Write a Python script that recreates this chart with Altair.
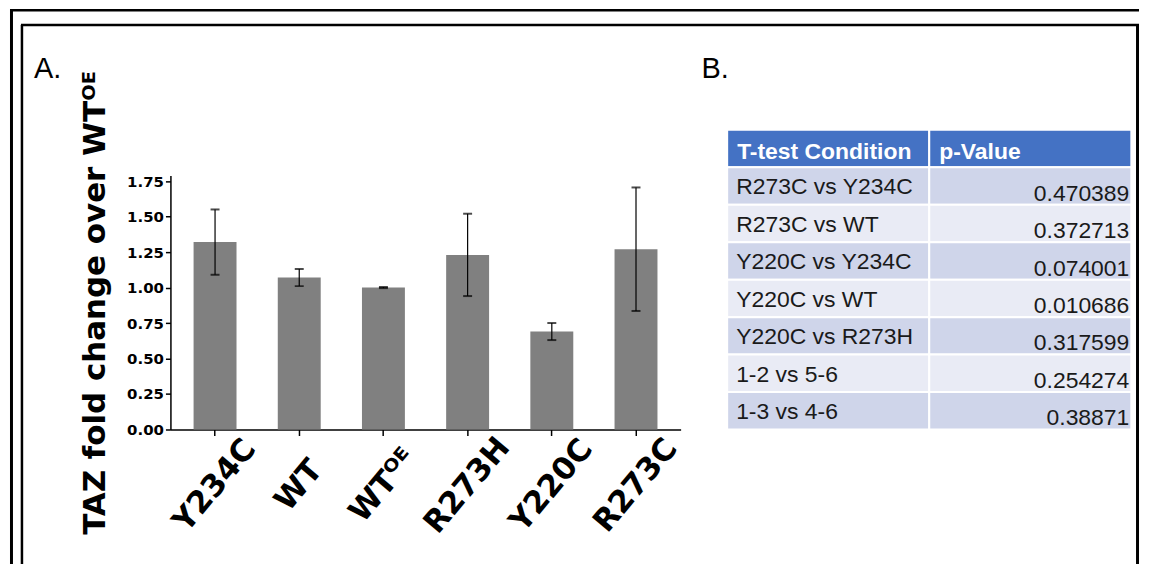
import altair as alt
import pandas as pd

# ---------------- data ----------------
categories = ["Y234C", "WT", "WTᴼᴱ", "R273H", "Y220C", "R273C"]
means = [1.32, 1.07, 1.00, 1.23, 0.69, 1.27]
errors = [0.23, 0.06, 0.004, 0.29, 0.06, 0.435]
y_ticks = [0.0, 0.25, 0.5, 0.75, 1.0, 1.25, 1.5, 1.75]

header = ["T-test Condition", "p-Value"]
conditions = ["R273C vs Y234C", "R273C vs WT", "Y220C vs Y234C", "Y220C vs WT",
              "Y220C vs R273H", "1-2 vs 5-6", "1-3 vs 4-6"]
p_values = [0.470389, 0.372713, 0.074001, 0.010686, 0.317599, 0.254274, 0.38871]

y_title = "TAZ fold change over WTᴼᴱ"

# ---------------- tables ----------------
bars = pd.DataFrame({
    "cat": categories,
    "mean": means,
    "lo": [m - e for m, e in zip(means, errors)],
    "hi": [m + e for m, e in zip(means, errors)],
})

row_keys = ["head"] + [f"r{i}" for i in range(len(conditions))]
cells = []
for i, key in enumerate(row_keys):
    kind = "header" if i == 0 else ("dark" if i % 2 == 1 else "light")
    for col in header:
        cells.append({"row": key, "col": col, "kind": kind})
cells = pd.DataFrame(cells)
head_txt = pd.DataFrame({"row": ["head", "head"], "col": header, "label": header})
body = pd.DataFrame({
    "row": row_keys[1:],
    "cond": conditions,
    "pval": [str(v) for v in p_values],
    "c1": header[0],
    "c2": header[1],
})

# ---------------- panel A: bar chart ----------------
FONT = "DejaVu Sans"
xaxis = alt.Axis(title=None, labelAngle=310, labelAlign="center", labelBaseline="middle",
                 labelPadding=50, labelFont=FONT, labelFontSize=31, labelFontWeight="bold",
                 labelColor="black", labelOverlap=False, labelLimit=400,
                 tickSize=6, tickColor="black", tickWidth=1.5,
                 domainColor="black", domainWidth=1.5)
xenc = alt.X("cat:N", sort=categories,
             scale=alt.Scale(domain=categories, paddingInner=0.49, paddingOuter=0.275),
             axis=xaxis)
yscale = alt.Scale(domain=[0, 1.79], nice=False, zero=True)
yaxis = alt.Axis(values=y_ticks, format=".2f", grid=False, title=y_title,
                 labelFont=FONT, labelFontSize=15, labelFontWeight="bold", labelColor="black",
                 labelOverlap=False, labelPadding=2, tickSize=5, tickColor="black", tickWidth=1.5,
                 domainColor="black", domainWidth=1.5,
                 titleFont=FONT, titleFontSize=31, titleFontWeight="bold", titleColor="black",
                 titlePadding=15)

def yq(field):
    return alt.Y(f"{field}:Q", scale=yscale, axis=yaxis, title=y_title)

base = alt.Chart(bars)
bar_layer = alt.layer(
    base.mark_bar(color="#808080").encode(x=xenc, y=yq("mean")),
    base.mark_rule(color="black", strokeWidth=1.2).encode(x=xenc, y=yq("lo"), y2="hi:Q"),
    base.mark_tick(color="black", thickness=2, size=9).encode(x=xenc, y=yq("lo")),
    base.mark_tick(color="black", thickness=2, size=9).encode(x=xenc, y=yq("hi")),
)

# ---------------- panel B: table ----------------
tx_scale = alt.Scale(domain=header, range=[558.7, 964.3], paddingInner=0, paddingOuter=0)
ty_scale = alt.Scale(domain=row_keys, range=[-45.7, 255], paddingInner=0, paddingOuter=0)
TFONT = "Liberation Sans"

cell_rects = alt.Chart(cells).mark_rect(stroke="white", strokeWidth=2).encode(
    x=alt.X("col:N", scale=tx_scale, axis=None),
    y=alt.Y("row:N", scale=ty_scale, axis=None),
    color=alt.Color("kind:N", scale=alt.Scale(domain=["header", "dark", "light"],
                                              range=["#4472C4", "#CFD5EA", "#E9EBF5"]), legend=None),
)
head_left = alt.Chart(head_txt).mark_text(align="left", baseline="alphabetic", dx=10, font=TFONT,
                                          fontSize=23, fontWeight="bold", color="white").encode(
    x=alt.X("col:N", scale=tx_scale, axis=None, bandPosition=0),
    y=alt.Y("row:N", scale=ty_scale, axis=None, bandPosition=0.77),
    text="label:N",
)
cond_txt = alt.Chart(body).mark_text(align="left", baseline="alphabetic", dx=9, font=TFONT,
                                     fontSize=23, color="#1a1a1a").encode(
    x=alt.X("c1:N", scale=tx_scale, axis=None, bandPosition=0),
    y=alt.Y("row:N", scale=ty_scale, axis=None, bandPosition=0.72),
    text="cond:N",
)
pval_txt = alt.Chart(body).mark_text(align="right", baseline="alphabetic", dx=-2, font=TFONT,
                                     fontSize=23, color="#1a1a1a").encode(
    x=alt.X("c2:N", scale=tx_scale, axis=None, bandPosition=1),
    y=alt.Y("row:N", scale=ty_scale, axis=None, bandPosition=0.89),
    text="pval:N",
)
table_layer = alt.layer(cell_rects, head_left, cond_txt, pval_txt)

# ---------------- decorations: frame and panel letters ----------------
one = pd.DataFrame({"k": [0]})

def hline(x1, x2, y, w):
    return alt.Chart(one).mark_rule(color="black", strokeWidth=w, clip=False).encode(
        x=alt.value(x1), x2=alt.value(x2), y=alt.value(y))

def vline(x, y1, y2, w):
    return alt.Chart(one).mark_rule(color="black", strokeWidth=w, clip=False).encode(
        x=alt.value(x), y=alt.value(y1), y2=alt.value(y2))

def letter(t, x, y):
    return alt.Chart(one).mark_text(text=t, align="left", baseline="alphabetic", font=TFONT,
                                    fontSize=29, color="black").encode(
        x=alt.value(x), y=alt.value(y))

frame = alt.layer(
    hline(-161, 972, -165.75, 2.5),
    vline(-159.5, -165, 390, 3),
    hline(-150, 972, -151, 2.5),
    vline(-149, -151, 390, 2.5),
    vline(970.5, -151, 390, 3),
    letter("A.", -137, -98),
    letter("B.", 533, -98),
)

chart = alt.layer(bar_layer, table_layer, frame).resolve_scale(
    x="independent", y="independent"
).properties(
    width=512, height=255, padding=0,
    autosize=alt.AutoSizeParams(type="pad"),
    background="white",
).configure_view(stroke=None)

chart.save("out.html", embed_options={"renderer": "svg", "actions": False})
